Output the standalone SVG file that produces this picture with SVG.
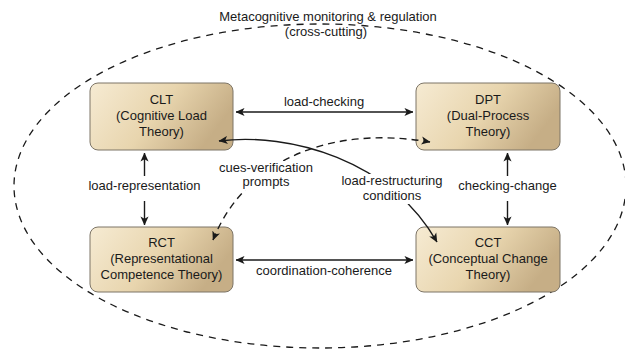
<svg xmlns="http://www.w3.org/2000/svg" width="625" height="350" viewBox="0 0 625 350">
  <defs>
    <linearGradient id="boxFill" x1="0" y1="0" x2="1" y2="0.35">
      <stop offset="0" stop-color="#f6ebd3"/>
      <stop offset="0.55" stop-color="#e8d5ae"/>
      <stop offset="1" stop-color="#c6ae86"/>
    </linearGradient>
    <marker id="head" viewBox="0 0 10 10" refX="9.5" refY="5" markerWidth="9" markerHeight="9" markerUnits="userSpaceOnUse" orient="auto-start-reverse">
      <path d="M0,0.5 L10,5 L0,9.5 L2.5,5 Z" fill="#1a1a1a"/>
    </marker>
    <style>
      text { font-family: "Liberation Sans", Arial, sans-serif; font-size: 13px; fill: #1a1a1a; text-anchor: middle; }
      .box { fill: url(#boxFill); stroke: #7d7567; stroke-width: 1; }
      .edge { fill: none; stroke: #1a1a1a; stroke-width: 1.4; marker-end: url(#head); }
      .both { marker-start: url(#head); }
      .dashed { stroke-dasharray: 7 5; }
      .outline { fill: none; stroke: #1a1a1a; stroke-width: 1.3; stroke-dasharray: 7 6; }
    </style>
  </defs>

  <!-- cross-cutting metacognition boundary -->
  <g id="metacognition">
    <ellipse class="outline" cx="320" cy="186" rx="306" ry="162"/>
    <text x="328" y="21">Metacognitive monitoring &amp; regulation</text>
    <text x="326" y="36">(cross-cutting)</text>
  </g>

  <g id="CLT">
    <rect class="box" x="90" y="83" width="143" height="67" rx="8"/>
    <text x="161.5" y="104">CLT</text>
    <text x="161.5" y="120">(Cognitive Load</text>
    <text x="161.5" y="136">Theory)</text>
  </g>

  <g id="DPT">
    <rect class="box" x="416" y="83" width="144" height="67" rx="8"/>
    <text x="488" y="104">DPT</text>
    <text x="488" y="120">(Dual-Process</text>
    <text x="488" y="136">Theory)</text>
  </g>

  <g id="RCT">
    <rect class="box" x="90" y="227" width="143" height="65" rx="8"/>
    <text x="161.5" y="247">RCT</text>
    <text x="161.5" y="263">(Representational</text>
    <text x="161.5" y="279">Competence Theory)</text>
  </g>

  <g id="CCT">
    <rect class="box" x="416" y="227" width="144" height="65" rx="8"/>
    <text x="488" y="247">CCT</text>
    <text x="488" y="263">(Conceptual Change</text>
    <text x="488" y="279">Theory)</text>
  </g>

  <g id="connectors">
    <path class="edge both" d="M236,112 L413,112"/>
    <text x="324" y="106">load-checking</text>

    <path class="edge both" d="M236,260 L413,260"/>
    <text x="324" y="275">coordination-coherence</text>

    <path class="edge" d="M144.5,176 L144.5,153"/>
    <path class="edge" d="M144.5,201 L144.5,225"/>
    <text x="144.5" y="190">load-representation</text>

    <path class="edge" d="M507.5,176 L507.5,153"/>
    <path class="edge" d="M507.5,201 L507.5,225"/>
    <text x="507.5" y="190">checking-change</text>

    <path class="edge both" d="M219,141 C290,132 390,160 437,242"/>
    <rect x="338" y="174" width="110" height="30" fill="#ffffff"/>
    <text x="392" y="185">load-restructuring</text>
    <text x="392" y="200">conditions</text>

    <path class="edge both dashed" d="M213,240 C245,160 330,125 430,142"/>
    <rect x="212" y="161" width="108" height="29" fill="#ffffff"/>
    <text x="266" y="172">cues-verification</text>
    <text x="266" y="186">prompts</text>
  </g>
</svg>
